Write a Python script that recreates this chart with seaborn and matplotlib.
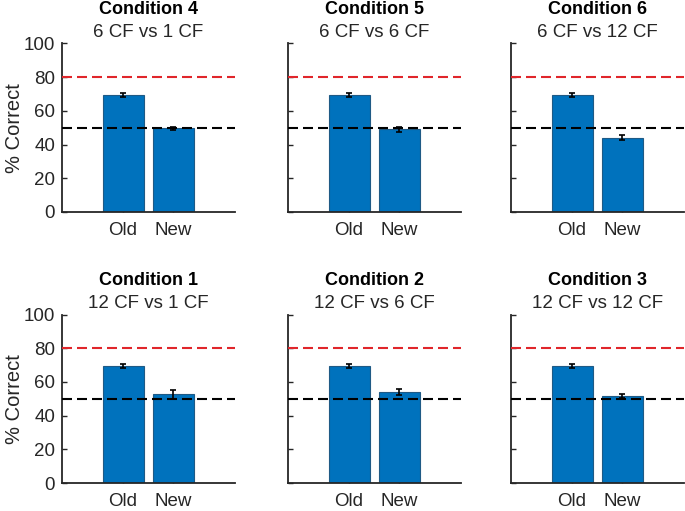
import matplotlib
matplotlib.use('Agg')
import matplotlib.pyplot as plt
import seaborn as sns
import pandas as pd

# panel order as laid out: top row then bottom row
conditions = ["Condition 4", "Condition 5", "Condition 6",
              "Condition 1", "Condition 2", "Condition 3"]
subtitles = ["6 CF vs 1 CF", "6 CF vs 6 CF", "6 CF vs 12 CF",
             "12 CF vs 1 CF", "12 CF vs 6 CF", "12 CF vs 12 CF"]
groups = ["Old", "New"]
old_vals = [69.5, 69.5, 69.5, 69.5, 69.5, 69.5]
new_vals = [49.6, 49.0, 44.2, 52.6, 54.0, 51.5]
old_err = [1.4, 1.4, 1.4, 1.4, 1.4, 1.4]
new_err = [1.1, 1.5, 1.5, 2.6, 1.5, 1.1]
chance = 50
criterion = 80

sns.set_theme(style="ticks")
plt.rcParams['font.family'] = ['Liberation Sans', 'DejaVu Sans']

fig = plt.figure(figsize=(6.85, 5.11), dpi=100)
lefts = [62 / 685, 288 / 685, 511 / 685]
bottoms = [1 - 212 / 511, 1 - 483 / 511]
w = 173 / 685
h = 168.5 / 511

dark = "#262626"
for i, cond in enumerate(conditions):
    row, col = divmod(i, 3)
    ax = fig.add_axes([lefts[col], bottoms[row], w, h])
    df = pd.DataFrame({"group": groups, "value": [old_vals[i], new_vals[i]]})
    sns.barplot(data=df, x="group", y="value", order=groups, color="#0072BD",
                saturation=1, width=0.82, edgecolor="#1f5a85", linewidth=0.8,
                errorbar=None, ax=ax, zorder=2)
    ax.errorbar([0, 1], [old_vals[i], new_vals[i]], yerr=[old_err[i], new_err[i]],
                fmt="none", ecolor="black", elinewidth=1.2, capsize=2.5, capthick=1.2, zorder=4)
    ax.axhline(criterion, color="#E0262B", ls=(0, (4.8, 2.4)), lw=1.5, zorder=3)
    ax.axhline(chance, color="black", ls=(0, (4.8, 2.4)), lw=1.5, zorder=3)
    ax.set_xlim(-1.22, 2.24)
    ax.set_ylim(0, 100)
    ax.set_yticks([0, 20, 40, 60, 80, 100])
    ax.set_xlabel("")
    sns.despine(ax=ax)
    for s in ["left", "bottom"]:
        ax.spines[s].set_color(dark)
        ax.spines[s].set_linewidth(1.3)
    ax.tick_params(direction="in", length=3.5, width=1, color=dark,
                   labelsize=13.5, labelcolor=dark)
    ax.tick_params(axis="x", pad=7)
    ax.tick_params(axis="y", pad=5)
    if col == 0:
        ax.set_ylabel("% Correct", fontsize=14.5, color=dark, va="center")
        ax.yaxis.set_label_coords(-0.275, 0.5)
    else:
        ax.set_ylabel("")
        ax.set_yticklabels([])
    ax.annotate(cond, xy=(0.5, 1.0), xycoords="axes fraction", xytext=(0, 24.5),
                textcoords="offset points", ha="center", va="center",
                fontsize=13, fontweight="bold", color="black")
    ax.annotate(subtitles[i], xy=(0.5, 1.0), xycoords="axes fraction", xytext=(0, 8),
                textcoords="offset points", ha="center", va="center",
                fontsize=13.5, color=dark)

fig.savefig("out.png", dpi=100)
